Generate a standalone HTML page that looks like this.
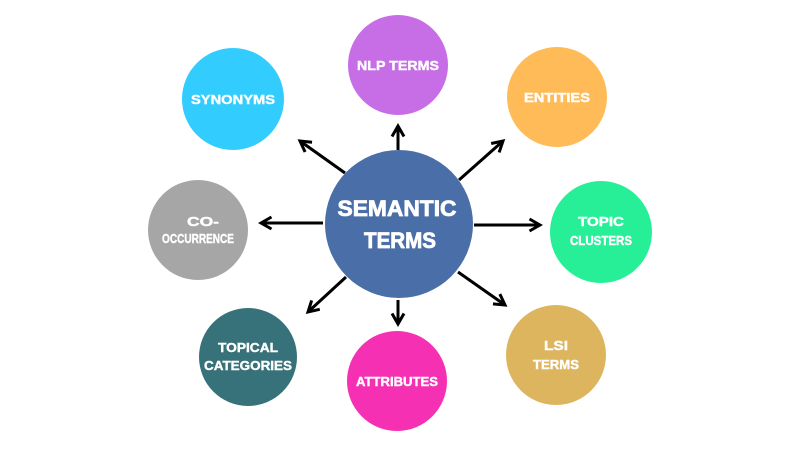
<!DOCTYPE html>
<html><head><style>html,body{margin:0;padding:0;background:#fff}svg{display:block}</style></head><body>
<svg width="800" height="450" viewBox="0 0 800 450" xmlns="http://www.w3.org/2000/svg" font-family="Liberation Sans, sans-serif" font-weight="bold" fill="#fff">
<defs><marker id="a" viewBox="0 0 10 10" refX="8" refY="5" markerWidth="5" markerHeight="5" orient="auto"><path d="M1,1 L8,5 L1,9" fill="none" stroke="#000" stroke-width="2"/></marker></defs>
<g stroke="#000" stroke-width="3" marker-end="url(#a)">
<line x1="398" y1="150" x2="398" y2="126"/>
<line x1="345" y1="173" x2="300" y2="141"/>
<line x1="459" y1="180" x2="503" y2="141"/>
<line x1="323" y1="223" x2="261" y2="223"/>
<line x1="474" y1="225" x2="540" y2="225"/>
<line x1="346" y1="277" x2="308" y2="312"/>
<line x1="458" y1="272" x2="505" y2="305"/>
<line x1="398" y1="300" x2="398" y2="324"/>
</g>
<circle cx="399" cy="224" r="74" fill="#4a6ea8"/>
<circle cx="398" cy="65" r="50" fill="#c76de6"/>
<circle cx="557" cy="97" r="50" fill="#ffbb58"/>
<circle cx="233" cy="99" r="51" fill="#33ccff"/>
<circle cx="198" cy="230" r="50" fill="#a6a6a6"/>
<circle cx="601" cy="232" r="51" fill="#26ef98"/>
<circle cx="248" cy="357" r="49" fill="#37727a"/>
<circle cx="397" cy="381" r="50" fill="#f530b2"/>
<circle cx="556" cy="355" r="50" fill="#ddb55f"/>
<g font-size="22" text-anchor="middle" stroke="#fff" stroke-width="0.8">
<text x="397" y="216" textLength="119" lengthAdjust="spacingAndGlyphs">SEMANTIC</text>
<text x="400" y="248" textLength="72" lengthAdjust="spacingAndGlyphs">TERMS</text>
</g>
<g font-size="12.5" text-anchor="middle" stroke="#fff" stroke-width="0.4">
<text x="398" y="70" textLength="82" lengthAdjust="spacingAndGlyphs">NLP TERMS</text>
<text x="557" y="102" textLength="66" lengthAdjust="spacingAndGlyphs">ENTITIES</text>
<text x="233" y="104" textLength="84" lengthAdjust="spacingAndGlyphs">SYNONYMS</text>
<text x="203" y="226" textLength="32" lengthAdjust="spacingAndGlyphs">CO-</text>
<text x="198" y="243" textLength="72" lengthAdjust="spacingAndGlyphs">OCCURRENCE</text>
<text x="601" y="226" textLength="46" lengthAdjust="spacingAndGlyphs">TOPIC</text>
<text x="601" y="245" textLength="62" lengthAdjust="spacingAndGlyphs">CLUSTERS</text>
<text x="248" y="352" textLength="60" lengthAdjust="spacingAndGlyphs">TOPICAL</text>
<text x="248" y="370" textLength="88" lengthAdjust="spacingAndGlyphs">CATEGORIES</text>
<text x="397" y="386" textLength="82" lengthAdjust="spacingAndGlyphs">ATTRIBUTES</text>
<text x="556" y="350" textLength="24" lengthAdjust="spacingAndGlyphs">LSI</text>
<text x="556" y="369" textLength="46" lengthAdjust="spacingAndGlyphs">TERMS</text>
</g>
</svg>
</body></html>
